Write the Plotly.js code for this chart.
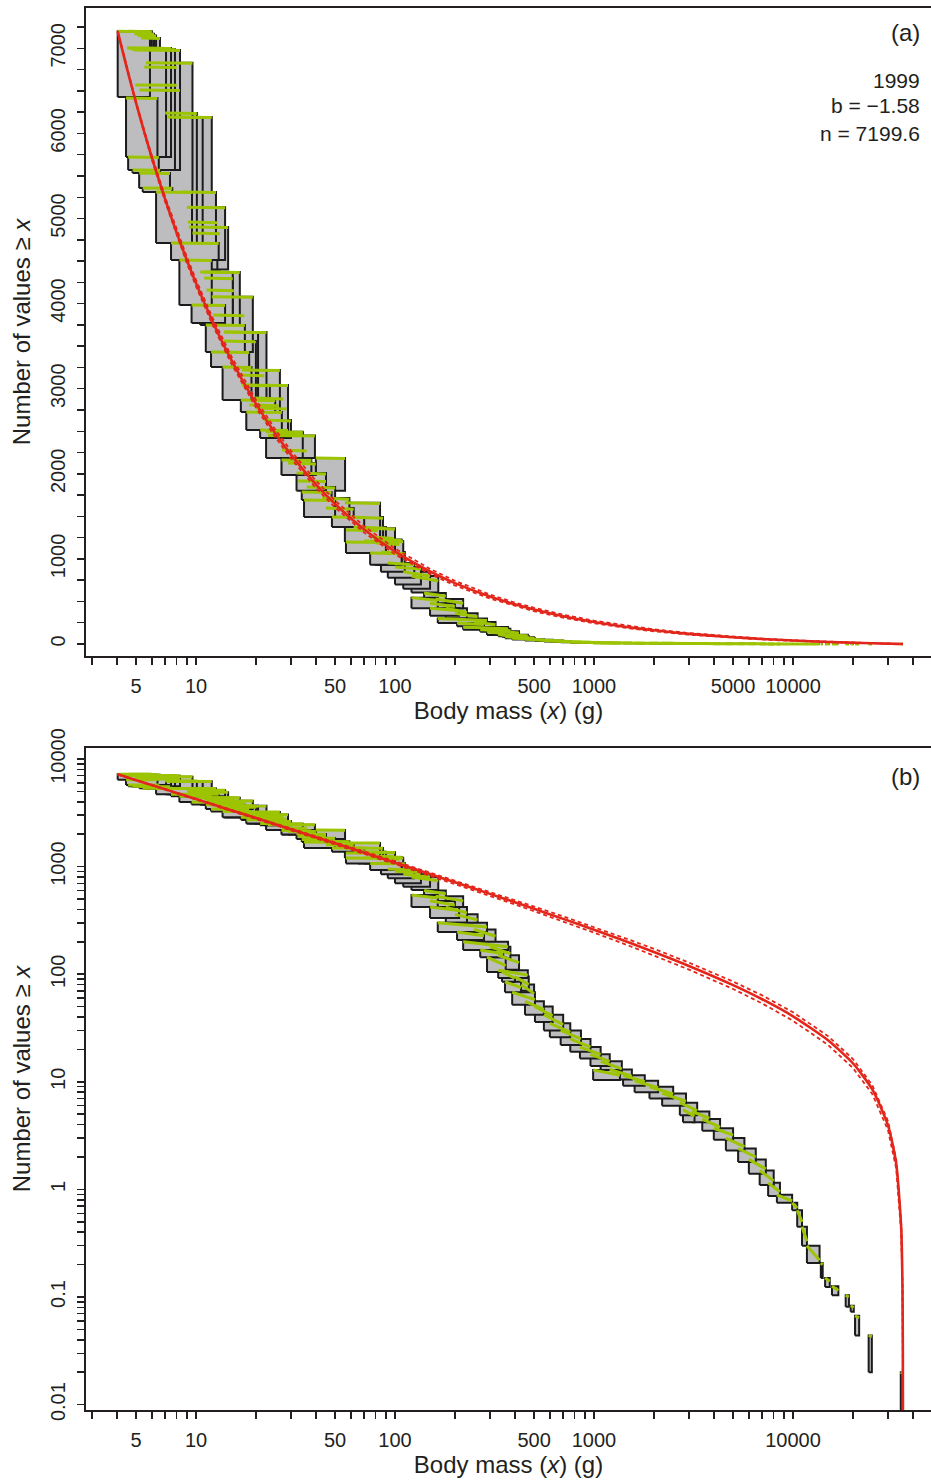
<!DOCTYPE html>
<html>
<head>
<meta charset="utf-8">
<script src="https://cdn.plot.ly/plotly-3.0.1.min.js"></script>
<style>html,body{margin:0;padding:0;background:#fff}</style>
</head>
<body>
<div id="chart" style="width:931px;height:1482px"></div>
<script>
// ---- binned data: one rectangle per bin (body-mass range x count range) ----
const massMin = [4.04,4.6,4.9,5.1,5.3,4.5,4.6,4.75,4.9,5.6,5.5,4.95,5.2,4.45,7.0,7.2,7.5,4.56,4.8,5.18,
5.4,6.3,8.5,9.0,9.2,9.1,9.6,7.49,8.25,10.5,11.0,11.0,11.3,12.0,9.5,12.2,11.2,13.8,14.0,13.8,
11.9,13.6,16.5,17.0,17.0,18.0,16.8,19.6,20.0,18.5,17.9,22.0,21.0,22.5,24.4,23.0,27.0,29.0,26.9,40.0,
32.0,32.6,36.0,34.0,43.0,45.0,34.9,56.0,57.0,48.2,62.0,65.0,56.7,77.0,79.0,70.0,56.7,80.0,85.0,75.0,
92,100,110,121,140,121,160,150,150,180,200,164,205,250,220,268,300,330,330,290,
345,357,400,430,388,450,505,560,600,680,760,850,960,1080,990,1200,1400,1600,1900,2200,
2700,2800,3100,3500,4000,4600,5300,6000,6800,7500,8300,9900,10500,11100,11750,13800,14500,15700,18400,19500,
20500,24000,34800];
const massMax = [5.87,6.0,6.15,6.3,6.59,7.07,7.49,7.84,8.31,9.6,8.0,8.0,8.3,6.4,10.1,10.8,12.0,6.5,6.6,7.4,
7.6,9.55,12.6,14.0,14.5,12.8,13.2,13.0,12.0,15.3,16.6,15.3,15.5,19.3,14.0,17.5,17.6,20.5,22.6,20.0,
18.5,19.0,22.0,26.4,23.5,29.0,25.0,27.5,28.5,26.0,27.0,30.0,29.0,34.4,34.4,39.6,36.0,40.0,38.0,56.1,
45.0,45.0,50.0,48.0,59.0,62.0,50.0,84.1,87.0,70.0,90.0,100,82.0,98.0,108,110,90.0,105,112,108,
125,135,150,165,180,164,220,200,210,230,260,290,280,320,370,350,380,420,465,360,
400,430,470,500,505,560,620,700,760,860,960,1080,1200,1380,1350,1550,1800,2100,2500,2900,
3300,3200,3800,4300,5000,5700,6500,7300,8000,8600,9900,10500,11100,11750,13600,14100,15300,16900,19100,20200,
21500,24900,35700];
const countLow = [6428,6428,6428,6428,6428,5723,5723,5570,5570,5311,5723,5723,5723,5723,4712,4712,5311,5570,5535,5359,
5311,4712,4512,4512,4400,4400,4400,4512,3984,3750,3750,3750,3750,3431,3772,3431,3431,2867,2867,2867,
3255,2867,2867,2726,2726,2515,2726,2515,2515,2515,2515,2421,2421,2186,2186,2186,1986,1986,1986,1800,
1800,1810,1692,1692,1492,1492,1492,1200,1199,1375,1100,1069,1199,1000,930,1069,1069,930,850,930,
780,700,650,606,480,421,421,400,333,300,260,247,208,190,168,144,140,110,92,105,
85,68,70,58,52,42,36,30,26,22,19,16.5,14,12,10.4,10.5,9.2,8.0,7.0,6.0,
4.9,4.2,4.2,3.5,2.9,2.3,1.8,1.4,1.1,0.87,0.75,0.64,0.45,0.30,0.207,0.150,0.124,0.104,0.081,0.073,
0.044,0.020,0];
const countHigh = [7200,7200,7170,7150,7120,7004,7004,6990,6980,6831,6780,6570,6510,6416,6240,6193,6193,5723,5570,5535,
5359,5311,5311,5132,4900,4959,4830,4712,4512,4371,4371,4300,4160,4080,3984,3866,3748,3666,3666,3560,
3431,3255,3161,3220,3043,3043,2867,2890,2773,2810,2726,2632,2515,2495,2480,2450,2280,2127,2162,2186,
2009,1915,1845,1786,1716,1598,1692,1660,1492,1492,1375,1360,1340,1257,1228,1210,1199,1187,1081,1069,
952,905,850,800,600,545,530,480,421,420,360,300,247,260,200,168,180,150,109,144,
105,85,95,80,68,56,50,42,35,30,25,21,18,15.5,12.9,13,11.5,10.2,9.0,7.8,
6.4,5.5,5.3,4.5,3.7,3.0,2.4,1.9,1.5,1.15,0.89,0.75,0.64,0.45,0.30,0.207,0.150,0.126,0.104,0.083,
0.067,0.044,0.020];
const greenEnd = [7195,7195,7165,7145,7115,6998,6998,6984,6974,6825,6775,6565,6505,6410,6234,6187,6187,5718,5566,5530,
5355,5305,5305,5126,4894,4950,4822,4707,4506,4365,4365,4292,4152,4074,3979,3858,3742,3660,3660,3551,
3426,3249,3152,3214,3034,3037,2860,2880,2763,2800,2720,2622,2509,2489,2468,2444,2268,2115,2156,2180,
1998,1909,1833,1780,1700,1585,1686,1652,1478,1486,1360,1352,1333,1240,1220,1202,1192,1170,1062,1060,
930,880,800,740,560,510,480,440,390,370,320,275,228,225,180,155,155,128,98,120,
92,75,80,66,58,47,41,34,29,25,21,18,15.5,13.2,11.5,11.3,10,8.8,7.7,6.6,
5.4,4.8,4.6,3.8,3.2,2.5,2.0,1.55,1.2,0.95,0.78,0.67,0.5,0.33,0.22,0.20,0.14,0.115,0.10,0.08,
0.064,0.043,0.0195];

// ---- fitted bounded power law (b = -1.58) and its confidence band ----
const fitMass  = [4.04,4.5,5,5.5,6,7,8,9,10,12,15,20,25,30,40,50,70,100,150,200,300,400,500,700,1000,1500,2000,3000,5000,7000,10000,15000,20000,25000,30000,33000,35000,35500,35650,35690,35700];
const fitCount = [7199.6,6761,6358,6014,5716,5224,4832,4510,4241,3812,3344,2825,2477,2225,1877,1645,1346.7,1088,852.2,715.5,557.8,466.3,405.2,326.8,258.8,196.7,160.8,119.3,79.2,58.5,40.6,24.3,14.87,8.54,3.95,1.74,0.43,0.12,0.03,0.006,0];
const fitUpper = [7199.6,6768,6371,6032,5739,5253,4866,4546,4279,3854,3387,2870,2522,2270,1920,1686,1384,1122,882,743,581,487,425.5,344.8,274.3,209.5,172.1,128.2,85.5,63.5,44.3,26.6,16.28,9.35,4.33,1.91,0.47,0.131,0.033,0.0066,0];
const fitLower = [7199.6,6754,6345,5996,5693,5195,4798,4474,4203,3770,3301,2780,2432,2180,1834,1604,1309,1054,822,688,534,446,385,308.8,243.3,183.9,149.5,110.4,72.9,53.5,36.9,22.0,13.46,7.73,3.57,1.57,0.39,0.109,0.027,0.0054,0];

// ---- axis ticks and labels ----
const xTickVals = [3,4,5,6,7,8,9,10,20,30,40,50,60,70,80,90,100,200,300,400,500,600,700,800,900,
  1000,2000,3000,4000,5000,6000,7000,8000,9000,10000,20000,30000,40000];
const xLabelsA = [5,10,50,100,500,1000,5000,10000];
const xLabelsB = [5,10,50,100,500,1000,10000];
const yTicksA = [0,250,500,750,1000,1250,1500,1750,2000,2250,2500,2750,3000,3250,3500,3750,4000,4250,4500,4750,5000,5250,5500,5750,6000,6250,6500,6750,7000,7250];
const yLabelsA = [0,1000,2000,3000,4000,5000,6000,7000];
const yDecadesB = [0.01,0.1,1,10,100,1000,10000];
const yLabelsB = ['0.01','0.1','1','10','100','1000','10000'];

const xTextA = xTickVals.map(v => xLabelsA.includes(v) ? String(v) : '');
const xTextB = xTickVals.map(v => xLabelsB.includes(v) ? String(v) : '');
const yTextA = yTicksA.map(v => yLabelsA.includes(v) ? String(v) : '');
const yTicksB = [], yTextB = [];
yDecadesB.forEach((d, k) => {
  const mults = (k === yDecadesB.length - 1) ? [1] : [1,2,3,4,5,6,7,8,9];
  mults.forEach(m => { yTicksB.push(d * m); yTextB.push(m === 1 ? yLabelsB[k] : ''); });
});

const GREY = '#bdbdbf', EDGE = '#1b1b1d', GREEN = '#9cc400', RED = '#e3261b', INK = '#231f20';
const traces = [];

function addPanel(xa, ya, logY) {
  const order = massMin.map((_, i) => i).sort((a, b) => massMin[b] - massMin[a]);
  for (const i of order) {
    let lo = countLow[i];
    if (logY && lo <= 0) lo = 1e-4;
    traces.push({
      type: 'scatter', mode: 'lines', xaxis: xa, yaxis: ya, hoverinfo: 'skip',
      x: [massMin[i], massMax[i], massMax[i], massMin[i], massMin[i]],
      y: [lo, lo, countHigh[i], countHigh[i], lo],
      fill: 'toself', fillcolor: GREY, line: {color: EDGE, width: 2}
    });
  }
  const gx = [], gy = [];
  massMin.forEach((m, i) => { gx.push(m, massMax[i], null); gy.push(countHigh[i], greenEnd[i], null); });
  traces.push({type: 'scatter', mode: 'lines', xaxis: xa, yaxis: ya, hoverinfo: 'skip',
    x: gx, y: gy, line: {color: GREEN, width: 3}});
  [fitUpper, fitLower].forEach(arr => traces.push({type: 'scatter', mode: 'lines', xaxis: xa, yaxis: ya,
    hoverinfo: 'skip', x: fitMass, y: arr, line: {color: RED, width: 1.8, dash: '4px,3px'}}));
  traces.push({type: 'scatter', mode: 'lines', xaxis: xa, yaxis: ya, hoverinfo: 'skip',
    x: fitMass, y: fitCount, line: {color: RED, width: 2.6, shape: 'spline', smoothing: 0.6}});
}
addPanel('x', 'y', false);
addPanel('x2', 'y2', true);

const FONT = 'Liberation Sans, Arial, Helvetica, sans-serif';
const common = {
  showgrid: false, zeroline: false, showline: true, mirror: true, linecolor: INK, linewidth: 2,
  ticks: 'outside', ticklen: 7, tickwidth: 1.5, tickcolor: INK, tickmode: 'array',
  tickfont: {family: FONT, size: 20, color: INK}, ticklabelstandoff: 4
};
const xTitle = {text: 'Body mass (<i>x</i>) (g)', font: {family: FONT, size: 24, color: INK}, standoff: 4};
const yTitle = {text: 'Number of values ≥ <i>x</i>', font: {family: FONT, size: 24, color: INK}, standoff: 10};

const layout = {
  width: 931, height: 1482,
  margin: {l: 86, r: 0, t: 8, b: 72},
  paper_bgcolor: '#fff', plot_bgcolor: '#fff',
  showlegend: false, hovermode: false,
  font: {family: FONT, color: INK},
  xaxis: Object.assign({}, common, {type: 'log', range: [0.4472, 4.6935], domain: [0, 1], anchor: 'y',
    tickvals: xTickVals, ticktext: xTextA, title: xTitle}),
  yaxis: Object.assign({}, common, {range: [-141, 7474], domain: [0.5378, 1], anchor: 'x',
    tickvals: yTicksA, ticktext: yTextA, tickangle: -90, title: yTitle}),
  xaxis2: Object.assign({}, common, {type: 'log', range: [0.4472, 4.6935], domain: [0, 1], anchor: 'y2',
    tickvals: xTickVals, ticktext: xTextB, title: xTitle}),
  yaxis2: Object.assign({}, common, {type: 'log', range: [-2.05, 4.102], domain: [0, 0.47218], anchor: 'x2',
    tickvals: yTicksB, ticktext: yTextB, tickangle: -90, title: yTitle}),
  annotations: [
    {text: '(a)', x: 0.9893, y: 0.98217, xref: 'paper', yref: 'paper', xanchor: 'right', yanchor: 'middle', showarrow: false, font: {family: FONT, size: 24, color: INK}},
    {text: '1999', x: 0.9893, y: 0.94864, xref: 'paper', yref: 'paper', xanchor: 'right', yanchor: 'middle', showarrow: false, font: {family: FONT, size: 21, color: INK}},
    {text: 'b = −1.58', x: 0.9893, y: 0.93010, xref: 'paper', yref: 'paper', xanchor: 'right', yanchor: 'middle', showarrow: false, font: {family: FONT, size: 21, color: INK}},
    {text: 'n = 7199.6', x: 0.9893, y: 0.91084, xref: 'paper', yref: 'paper', xanchor: 'right', yanchor: 'middle', showarrow: false, font: {family: FONT, size: 21, color: INK}},
    {text: '(b)', x: 0.9893, y: 0.45150, xref: 'paper', yref: 'paper', xanchor: 'right', yanchor: 'middle', showarrow: false, font: {family: FONT, size: 24, color: INK}}
  ]
};

Plotly.newPlot('chart', traces, layout, {staticPlot: true, displayModeBar: false});
</script>
</body>
</html>
